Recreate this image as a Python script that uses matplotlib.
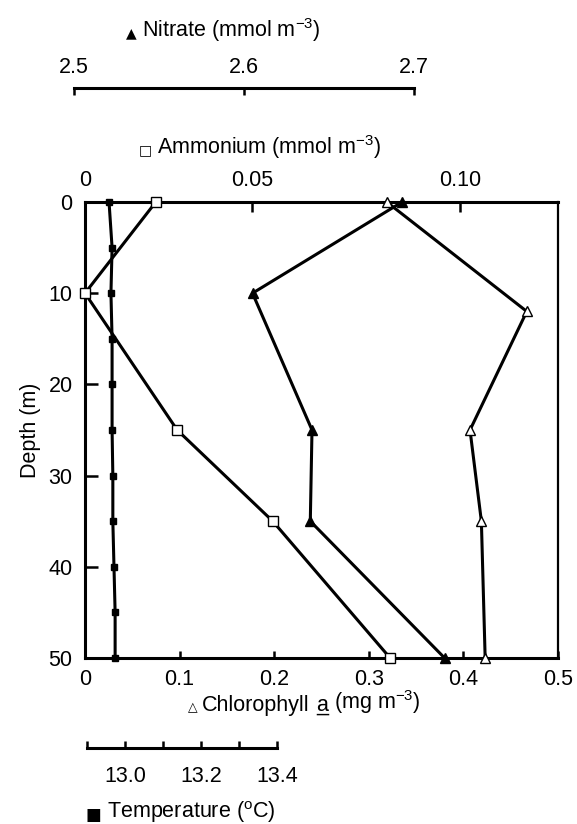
import numpy as np
import matplotlib
matplotlib.use("Agg")
import matplotlib.pyplot as plt
from matplotlib.ticker import NullLocator

plt.rcParams['font.family'] = ['Liberation Sans', 'DejaVu Sans']
plt.rcParams['mathtext.fontset'] = 'custom'
plt.rcParams['mathtext.rm'] = 'Liberation Sans'
plt.rcParams['mathtext.it'] = 'Liberation Sans:italic'
plt.rcParams['mathtext.default'] = 'regular'

# chlorophyll a (mg m-3) with depth (m)
chl_depth = [0, 12, 25, 35, 50]
chl = [0.319, 0.467, 0.407, 0.419, 0.423]

# nitrate (mmol m-3)
no3_depth = [0, 10, 25, 35, 50]
no3 = [2.693, 2.605, 2.640, 2.639, 2.718]

# ammonium (mmol m-3)
nh4_depth = [0, 10, 25, 35, 50]
nh4 = [0.0212, 0.0, 0.0276, 0.0550, 0.0832]

# temperature (deg C)
temp_depth = [0, 5, 10, 15, 20, 25, 30, 35, 40, 45, 50]
temp = [12.958, 12.966, 12.963, 12.966, 12.966, 12.966,
        12.968, 12.968, 12.971, 12.974, 12.974]

depth_ticks = [0, 10, 20, 30, 40, 50]
chl_ticks = [0, 0.1, 0.2, 0.3, 0.4, 0.5]
chl_ticklabels = ["0", "0.1", "0.2", "0.3", "0.4", "0.5"]
nh4_ticks = [0, 0.05, 0.10]
nh4_ticklabels = ["0", "0.05", "0.10"]
no3_ticks = [2.5, 2.6, 2.7]
no3_ticklabels = ["2.5", "2.6", "2.7"]
temp_ticks = [12.9, 13.0, 13.1, 13.2, 13.3, 13.4]
temp_ticklabels = ["", "13.0", "", "13.2", "", "13.4"]

# the ammonium scale printed on the figure is not evenly spaced
nh4_ref = [-0.05, 0.0, 0.05, 0.10, 0.15]
chl_ref = [-0.1765, 0.0, 0.1765, 0.3964, 0.6163]

def nh4_fwd(a):
    return np.interp(a, nh4_ref, chl_ref)

def nh4_inv(c):
    return np.interp(c, chl_ref, nh4_ref)

W, H = 577, 824
LW = 2.2
FS = 15.5
fig = plt.figure(figsize=(W / 100, H / 100), dpi=100)

# pixel layout
main_l, main_r, main_t, main_b = 85, 558, 202, 658
no3_l, no3_r, no3_y = 74, 414, 88
tmp_l, tmp_r, tmp_y = 87, 277, 748

ax = fig.add_axes([main_l / W, 1 - main_b / H, (main_r - main_l) / W, (main_b - main_t) / H])
ax.set_xlim(0, 0.5)
ax.set_ylim(50, 0)
for s in ax.spines.values():
    s.set_linewidth(LW)
ax.spines['right'].set_linewidth(1.6)
ax.set_xticks(chl_ticks, chl_ticklabels)
ax.set_yticks(depth_ticks, [str(d) for d in depth_ticks])
ax.tick_params(axis='x', direction='in', length=5, width=1.8, pad=8, labelsize=FS)
ax.tick_params(axis='y', direction='in', length=9, width=1.8, pad=9, labelsize=FS)
ax.set_ylabel("Depth (m)", fontsize=FS, labelpad=5)

# chlorophyll
ax.plot(chl, chl_depth, color='black', lw=LW, marker='^', ms=7,
        mfc='white', mec='black', mew=1.0, clip_on=False, zorder=5)

# temperature drawn on its own scale, shared pixel span with the main box
t_per_px = (temp_ticks[-1] - temp_ticks[0]) / (tmp_r - tmp_l)
ax_t = ax.twiny()
ax_t.set_xlim(temp_ticks[0] + (main_l - tmp_l) * t_per_px,
              temp_ticks[0] + (main_r - tmp_l) * t_per_px)
ax_t.axis('off')
ax_t.plot(temp, temp_depth, color='black', lw=LW, marker='s', ms=5,
          mfc='black', mec='black', clip_on=False, zorder=5)

# nitrate
n_per_px = (no3_ticks[-1] - no3_ticks[0]) / (no3_r - no3_l)
ax_n = ax.twiny()
ax_n.set_xlim(no3_ticks[0] + (main_l - no3_l) * n_per_px,
              no3_ticks[0] + (main_r - no3_l) * n_per_px)
ax_n.axis('off')
ax_n.plot(no3, no3_depth, color='black', lw=LW, marker='^', ms=7,
          mfc='black', mec='black', clip_on=False, zorder=6)

# ammonium on the top axis
ax_a = ax.twiny()
ax_a.set_xscale('function', functions=(nh4_fwd, nh4_inv))
ax_a.set_xlim(0, float(nh4_inv(0.5)))
for s in ax_a.spines.values():
    s.set_visible(False)
ax_a.set_xticks(nh4_ticks, nh4_ticklabels)
ax_a.xaxis.set_minor_locator(NullLocator())
ax_a.tick_params(axis='x', direction='in', length=7, width=1.8, pad=8, labelsize=FS)
ax_a.plot(nh4, nh4_depth, color='black', lw=LW, marker='s', ms=7,
          mfc='white', mec='black', mew=1.0, clip_on=False, zorder=7)

# nitrate scale bar
bar_n = fig.add_axes([no3_l / W, 1 - no3_y / H - 0.001, (no3_r - no3_l) / W, 0.001])
bar_n.set_xlim(no3_ticks[0], no3_ticks[-1])
bar_n.patch.set_visible(False)
for k in ['left', 'right', 'bottom']:
    bar_n.spines[k].set_visible(False)
bar_n.spines['top'].set_linewidth(LW)
bar_n.set_yticks([])
bar_n.xaxis.tick_top()
bar_n.set_xticks(no3_ticks, no3_ticklabels)
bar_n.tick_params(axis='x', direction='in', length=5, width=1.8, pad=7, labelsize=FS)

# temperature scale bar
bar_t = fig.add_axes([tmp_l / W, 1 - tmp_y / H, (tmp_r - tmp_l) / W, 0.001])
bar_t.set_xlim(temp_ticks[0], temp_ticks[-1])
bar_t.patch.set_visible(False)
for k in ['left', 'right', 'top']:
    bar_t.spines[k].set_visible(False)
bar_t.spines['bottom'].set_linewidth(LW)
bar_t.set_yticks([])
bar_t.set_xticks(temp_ticks, temp_ticklabels)
bar_t.tick_params(axis='x', direction='in', length=5, width=1.8, pad=13, labelsize=FS)


def add_symbol(t, sym, size, gap=4):
    ax.annotate(sym, xy=(0, 0.40), xycoords=t, xytext=(-gap, 0),
                textcoords='offset points', ha='right', va='center',
                fontsize=size, family=['DejaVu Sans'], annotation_clip=False)


def titled(x, y, label, sym, sym_size=8):
    t = fig.text(x / W, 1 - y / H, label, ha='center', va='center', fontsize=FS)
    add_symbol(t, sym, sym_size)
    return t

titled(231, 30, "Nitrate (mmol m$^{-3}$)", "\u25B2", 10)
titled(269, 147, "Ammonium (mmol m$^{-3}$)", "\u25A1", 10)
titled(191, 812, "Temperature ($^{o}$C)", "\u25A0", 12)

# chlorophyll label, built in pieces so the "a" can be underlined
c1 = fig.text(202 / W, 1 - 716 / H, "Chlorophyll", ha='left', va='bottom', fontsize=FS)
add_symbol(c1, "\u25B3", 9, gap=3)
c2 = ax.annotate("a", xy=(1, 0), xycoords=c1, xytext=(4.5, 0), textcoords='offset points',
                 ha='left', va='bottom', fontsize=FS, annotation_clip=False)
ax.annotate("_", xy=(1, 0), xycoords=c1, xytext=(4.5, 0), textcoords='offset points',
            ha='left', va='bottom', fontsize=FS, annotation_clip=False)
ax.annotate("(mg m$^{-3}$)", xy=(1, 0), xycoords=c2, xytext=(4.5, 0), textcoords='offset points',
            ha='left', va='bottom', fontsize=FS, annotation_clip=False)

fig.savefig("out.png", dpi=100)
